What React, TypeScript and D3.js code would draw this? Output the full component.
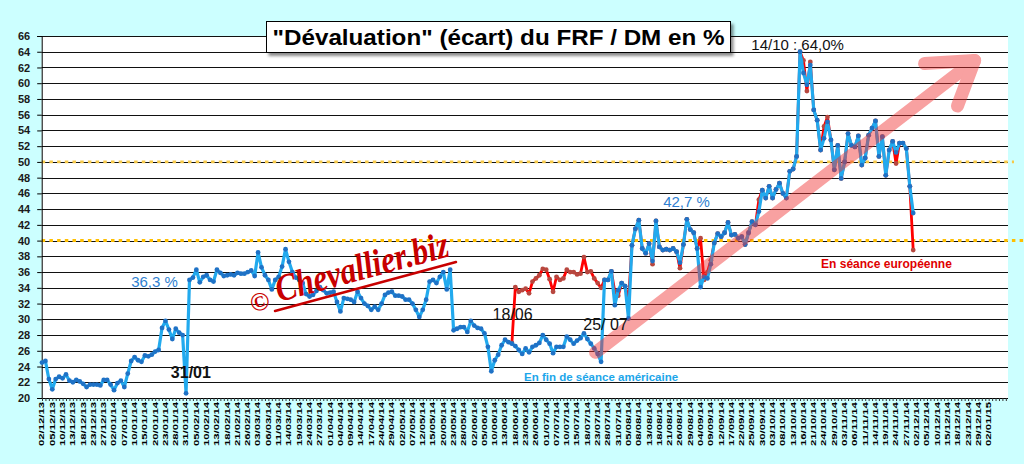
import React, { useEffect, useRef } from 'react';
import * as d3 from 'd3';

// Date labels shown under the axis (one every 3 trading days)
const tickLabels = [
  '02/12/13', '05/12/13', '10/12/13', '13/12/13', '18/12/13', '23/12/13', '27/12/13', '02/01/14',
  '07/01/14', '10/01/14', '15/01/14', '20/01/14', '23/01/14', '28/01/14', '31/01/14', '05/02/14',
  '10/02/14', '13/02/14', '18/02/14', '21/02/14', '26/02/14', '03/03/14', '06/03/14', '11/03/14',
  '14/03/14', '19/03/14', '24/03/14', '27/03/14', '01/04/14', '04/04/14', '09/04/14', '14/04/14',
  '17/04/14', '24/04/14', '29/04/14', '02/05/14', '07/05/14', '12/05/14', '15/05/14', '20/05/14',
  '23/05/14', '28/05/14', '02/06/14', '05/06/14', '10/06/14', '13/06/14', '18/06/14', '23/06/14',
  '26/06/14', '01/07/14', '07/07/14', '10/07/14', '15/07/14', '18/07/14', '23/07/14', '28/07/14',
  '31/07/14', '05/08/14', '08/08/14', '13/08/14', '18/08/14', '21/08/14', '26/08/14', '29/08/14',
  '04/09/14', '09/09/14', '12/09/14', '17/09/14', '22/09/14', '25/09/14', '30/09/14', '03/10/14',
  '08/10/14', '13/10/14', '16/10/14', '21/10/14', '24/10/14', '29/10/14', '03/11/14', '06/11/14',
  '11/11/14', '14/11/14', '19/11/14', '24/11/14', '27/11/14', '02/12/14', '05/12/14', '10/12/14',
  '15/12/14', '18/12/14', '23/12/14', '29/12/14', '02/01/15',
];
const labelStep = 3;
const categoryCount = 282;

const yTicks = [20, 22, 24, 26, 28, 30, 32, 34, 36, 38, 40, 42, 44, 46, 48, 50, 52, 54, 56, 58, 60, 62, 64, 66];
const refLines = [50, 40];

// "En fin de séance américaine" (blue), from day 0
const blueValues = [
  24.5, 24.7, 22.4, 21.1, 22.4, 22.7, 22.5, 23.0, 22.2, 22.0,
  22.3, 22.1, 21.8, 21.4, 21.7, 21.7, 21.7, 21.6, 22.3, 22.3,
  21.7, 21.0, 21.9, 22.2, 21.4, 23.1, 24.7, 25.2, 24.8, 24.6,
  25.4, 25.3, 25.5, 25.9, 26.1, 28.9, 29.8, 28.7, 27.5, 28.8,
  28.3, 28.0, 20.6, 35.0, 35.3, 36.3, 34.7, 35.4, 35.6, 35.0,
  34.8, 36.3, 35.9, 35.5, 35.6, 35.7, 35.6, 35.9, 35.8, 35.8,
  36.0, 36.2, 35.5, 38.5, 36.6, 35.6, 35.0, 33.8, 35.0, 35.4,
  36.7, 38.9, 37.3, 36.0, 35.3, 35.0, 34.6, 33.2, 32.9, 33.1,
  33.6, 34.1, 33.7, 33.3, 33.4, 33.5, 32.2, 31.0, 32.7, 32.6,
  32.5, 32.2, 33.5, 32.7, 32.0, 31.7, 31.2, 31.6, 31.2, 32.0,
  33.1, 33.4, 33.5, 33.0, 33.0, 32.9, 32.5, 32.5, 32.0, 31.2,
  30.3, 31.2, 32.5, 34.8, 35.0, 34.6, 35.4, 36.0, 33.8, 36.3,
  28.6, 28.8, 29.0, 29.0, 28.4, 29.8, 29.2, 28.9, 28.8, 28.2,
  26.5, 23.4, 24.8, 25.5, 26.7, 27.4, 27.1, 26.9, 26.6, 26.1,
  25.6, 26.3, 25.8, 26.5, 26.7, 27.0, 28.0, 27.4, 26.9, 25.7,
  26.5, 26.5, 26.5, 27.8, 27.4, 26.9, 27.3, 27.6, 28.2, 27.5,
  26.9, 26.3, 25.6, 24.6, 35.0, 35.0, 36.1, 31.8, 33.7, 34.6,
  34.2, 30.1, 39.4, 41.5, 42.6, 39.0, 38.4, 39.6, 37.4, 42.5,
  39.2, 38.8, 38.9, 38.8, 39.0, 38.6, 37.2, 39.5, 42.7, 41.4,
  41.0, 39.0, 34.1, 35.4, 35.2, 37.0, 39.7, 40.9, 40.5, 41.0,
  42.3, 40.7, 40.8, 40.3, 40.5, 39.5, 41.0, 42.4, 42.0, 43.7,
  46.4, 45.4, 46.9, 45.4, 46.5, 47.3, 46.0, 45.4, 48.8, 49.1,
  50.7, 64.0, 61.3, 59.8, 62.3, 56.6, 55.3, 51.5, 53.0, 55.1,
  52.8, 49.0, 52.1, 47.9, 50.0, 53.6, 52.1, 51.9, 53.3, 49.6,
  50.5, 53.4, 54.3, 55.2, 50.7, 53.2, 48.3, 51.5, 52.6, 51.2,
  52.4, 52.4, 51.7, 46.9, 43.5,
];

// "En séance européenne" (red), from day 137 (18/06)
const redStart = 137;
const redValues = [
  27.0, 34.1, 33.5,
  33.7, 33.9, 33.3, 34.8, 35.2, 35.6, 36.4, 36.3, 35.1, 33.5,
  35.4, 35.0, 35.2, 36.3, 36.0, 36.0, 35.7, 35.8, 37.9, 36.0,
  36.1, 35.2, 34.6, 34.0, 35.0, 35.0, 36.1, 33.5, 33.0, 34.6,
  34.2, 32.5, 39.4, 41.5, 42.6, 39.0, 38.4, 39.6, 37.0, 42.5,
  39.2, 38.8, 38.9, 38.8, 39.0, 38.6, 36.5, 39.5, 42.7, 41.4,
  41.0, 39.0, 40.3, 35.0, 36.0, 37.5, 39.7, 40.9, 40.5, 41.0,
  42.3, 40.7, 40.8, 40.3, 40.5, 39.5, 41.0, 42.4, 42.0, 45.2,
  46.4, 45.4, 46.9, 45.4, 46.5, 47.3, 46.0, 45.4, 48.8, 49.1,
  50.7, 64.0, 62.9, 59.0, 62.7, 56.6, 55.3, 51.5, 54.5, 55.7,
  52.8, 49.0, 52.1, 47.9, 50.0, 53.6, 52.1, 51.9, 53.3, 49.6,
  50.5, 53.4, 54.3, 55.2, 50.7, 53.2, 48.3, 51.5, 52.6, 49.8,
  52.4, 52.4, 51.7, 46.9, 38.8,
];

// Annotations placed in data coordinates (day index, value)
const notes = [
  { text: '36,3 %', i: 32.8, v: 34.1, color: '#2f7fd0', size: 15, weight: 'normal', anchor: 'middle' },
  { text: '31/01', i: 43.4, v: 22.5, color: '#111', size: 16, weight: 'bold', anchor: 'middle' },
  { text: '18/06', i: 137.2, v: 29.9, color: '#111', size: 16, weight: 'normal', anchor: 'middle' },
  { text: '25/ 07', i: 164.3, v: 28.6, color: '#111', size: 16, weight: 'normal', anchor: 'middle' },
  { text: '42,7 %', i: 187.9, v: 44.3, color: '#2f7fd0', size: 15, weight: 'normal', anchor: 'middle' },
  { text: '14/10 : 64,0%', i: 206.8, v: 64.2, color: '#111', size: 15, weight: 'normal', anchor: 'start' },
  { text: 'En fin de séance américaine', i: 163, v: 22.2, color: '#1ca6ea', size: 11.5, weight: 'bold', anchor: 'middle' },
  { text: 'En séance européenne', i: 246.2, v: 36.5, color: '#e00000', size: 12, weight: 'bold', anchor: 'middle' },
];

// Trend arrow (day index, value)
const arrowShaft = [[161.4, 25.8], [271.9, 62.9]];
const arrowHead = [[257.3, 62.5], [271.9, 62.9], [266.9, 57.1]];

const FONT = '"Liberation Sans", Arial, sans-serif';

const App: React.FC = () => {
  const svgRef = useRef<SVGSVGElement>(null);

  useEffect(() => {
    const W = 1024;
    const H = 464;
    const svg = d3.select(svgRef.current);
    svg.selectAll('*').remove();
    svg.attr('width', W).attr('height', H);

    const x = d3.scaleLinear().domain([0, categoryCount]).range([42, 42 + categoryCount * 3.43]);
    const y = d3.scaleLinear().domain([20, 66]).range([398, 36]);
    const left = 41.7;
    const right = 1008;

    const defs = svg.append('defs');
    const f = defs.append('filter').attr('id', 'shadow').attr('x', '-5%').attr('y', '-30%').attr('width', '115%').attr('height', '180%');
    f.append('feDropShadow').attr('dx', 2.5).attr('dy', 3).attr('stdDeviation', 1.5).attr('flood-color', '#000').attr('flood-opacity', 0.45);

    svg.append('rect').attr('width', W).attr('height', H).attr('fill', '#ccffff');
    svg.append('rect')
      .attr('x', left).attr('y', y(66))
      .attr('width', right - left).attr('height', y(20) - y(66))
      .attr('fill', '#fff');

    // grid lines
    svg.append('g')
      .selectAll('line')
      .data(yTicks.filter(t => t > 20))
      .enter()
      .append('line')
      .attr('x1', left).attr('x2', right)
      .attr('y1', d => Math.round(y(d)) + 0.5).attr('y2', d => Math.round(y(d)) + 0.5)
      .attr('stroke', '#111')
      .attr('stroke-width', 1.1);

    // dotted reference lines
    svg.append('g')
      .selectAll('line')
      .data(refLines)
      .enter()
      .append('line')
      .attr('x1', left).attr('x2', (d) => (d === 40 ? W : 1014))
      .attr('y1', d => y(d)).attr('y2', d => y(d))
      .attr('stroke', d => (d === 40 ? '#ffbf00' : '#f7c948'))
      .attr('stroke-width', d => (d === 40 ? 3 : 2.6))
      .attr('stroke-dasharray', '3.5,4.2');

    // y axis
    const yAxis = svg.append('g')
      .attr('transform', `translate(${left},0)`)
      .call(d3.axisLeft(y).tickValues(yTicks).tickSize(4.5).tickPadding(7).tickFormat(d3.format('d')));
    yAxis.select('.domain').attr('stroke', '#000');
    yAxis.selectAll('line').attr('stroke', '#000');
    yAxis.selectAll('text')
      .attr('fill', '#1a1a1a')
      .style('font-family', FONT)
      .style('font-size', '11px')
      .style('font-weight', 'bold');

    // x axis
    const xAxis = svg.append('g')
      .attr('transform', `translate(0,${y(20)})`)
      .call(d3.axisBottom(x).tickValues(d3.range(categoryCount)).tickSize(3).tickSizeOuter(0).tickFormat(() => ''));
    xAxis.select('.domain').attr('stroke', '#000').attr('d', `M${left},0.5H${right}`);
    xAxis.selectAll('line').attr('stroke', '#333');

    svg.append('g')
      .selectAll('text')
      .data(tickLabels)
      .enter()
      .append('text')
      .attr('transform', (_, k) => `translate(${x(k * labelStep) + 2.4},${y(20) + 4}) rotate(-90)`)
      .attr('text-anchor', 'end')
      .attr('textLength', 44)
      .attr('lengthAdjust', 'spacingAndGlyphs')
      .style('font-family', FONT)
      .style('font-size', '7px')
      .style('font-weight', 'bold')
      .attr('fill', '#000')
      .text(d => d);

    // series: line plus small markers
    const drawSeries = (values: number[], start: number, stroke: string, marker: string, width: number) => {
      const path = d3.line<number>()
        .x((_, k) => x(start + k))
        .y(d => y(d));
      svg.append('path')
        .datum(values)
        .attr('fill', 'none')
        .attr('stroke', stroke)
        .attr('stroke-width', width)
        .attr('stroke-linejoin', 'round')
        .attr('d', path);
      svg.append('g')
        .selectAll('circle')
        .data(values)
        .enter()
        .append('circle')
        .attr('cx', (_, k) => x(start + k))
        .attr('cy', d => y(d))
        .attr('r', 2.4)
        .attr('fill', marker);
    };

    drawSeries(redValues, redStart, '#ff0000', '#b8473f', 2.8);
    drawSeries(blueValues, 0, '#22aaee', '#1f72c6', 3.2);

    // trend arrow
    const ptLine = d3.line<number[]>().x(d => x(d[0])).y(d => y(d[1]));
    const arrow = svg.append('g').attr('opacity', 0.45);
    [arrowShaft, arrowHead].forEach(pts => {
      arrow.append('path')
        .attr('d', ptLine(pts))
        .attr('fill', 'none')
        .attr('stroke', '#f03030')
        .attr('stroke-width', 13)
        .attr('stroke-linecap', 'round')
        .attr('stroke-linejoin', 'round');
    });

    // annotations
    svg.append('g')
      .selectAll('text')
      .data(notes)
      .enter()
      .append('text')
      .attr('x', d => x(d.i))
      .attr('y', d => y(d.v))
      .attr('text-anchor', d => d.anchor)
      .attr('fill', d => d.color)
      .style('font-family', FONT)
      .style('font-size', d => `${d.size}px`)
      .style('font-weight', d => d.weight)
      .text(d => d.text);

    // watermark
    const wm = svg.append('g').attr('fill', '#c80000');
    wm.append('text')
      .attr('transform', 'translate(262,310) rotate(-15)')
      .attr('text-anchor', 'middle')
      .style('font-family', '"Liberation Serif", serif')
      .style('font-size', '26px')
      .style('font-weight', 'bold')
      .text('©');
    wm.append('text')
      .attr('transform', 'translate(279,302) rotate(-15)')
      .attr('textLength', 178)
      .attr('lengthAdjust', 'spacingAndGlyphs')
      .style('font-family', '"Liberation Serif", serif')
      .style('font-size', '38px')
      .style('font-style', 'italic')
      .style('font-weight', 'bold')
      .text('Chevallier.biz');
    wm.append('line')
      .attr('x1', 275).attr('y1', 311).attr('x2', 456).attr('y2', 262)
      .attr('stroke', '#c80000').attr('stroke-width', 2.5).attr('stroke-linecap', 'round');

    // title
    svg.append('rect')
      .attr('x', 266.5).attr('y', 21.5).attr('width', 464).attr('height', 31)
      .attr('fill', '#fff').attr('stroke', '#000').attr('stroke-width', 1)
      .attr('filter', 'url(#shadow)');
    svg.append('text')
      .attr('x', 498.5).attr('y', 44.5)
      .attr('text-anchor', 'middle')
      .attr('textLength', 452)
      .attr('lengthAdjust', 'spacingAndGlyphs')
      .style('font-family', FONT)
      .style('font-size', '22px')
      .style('font-weight', 'bold')
      .attr('fill', '#000')
      .text('"Dévaluation" (écart) du FRF / DM en %');
  }, []);

  return (
    <div style={{ position: 'absolute', left: 0, top: 0 }}>
      <svg ref={svgRef} style={{ display: 'block' }} />
    </div>
  );
};

export default App;
